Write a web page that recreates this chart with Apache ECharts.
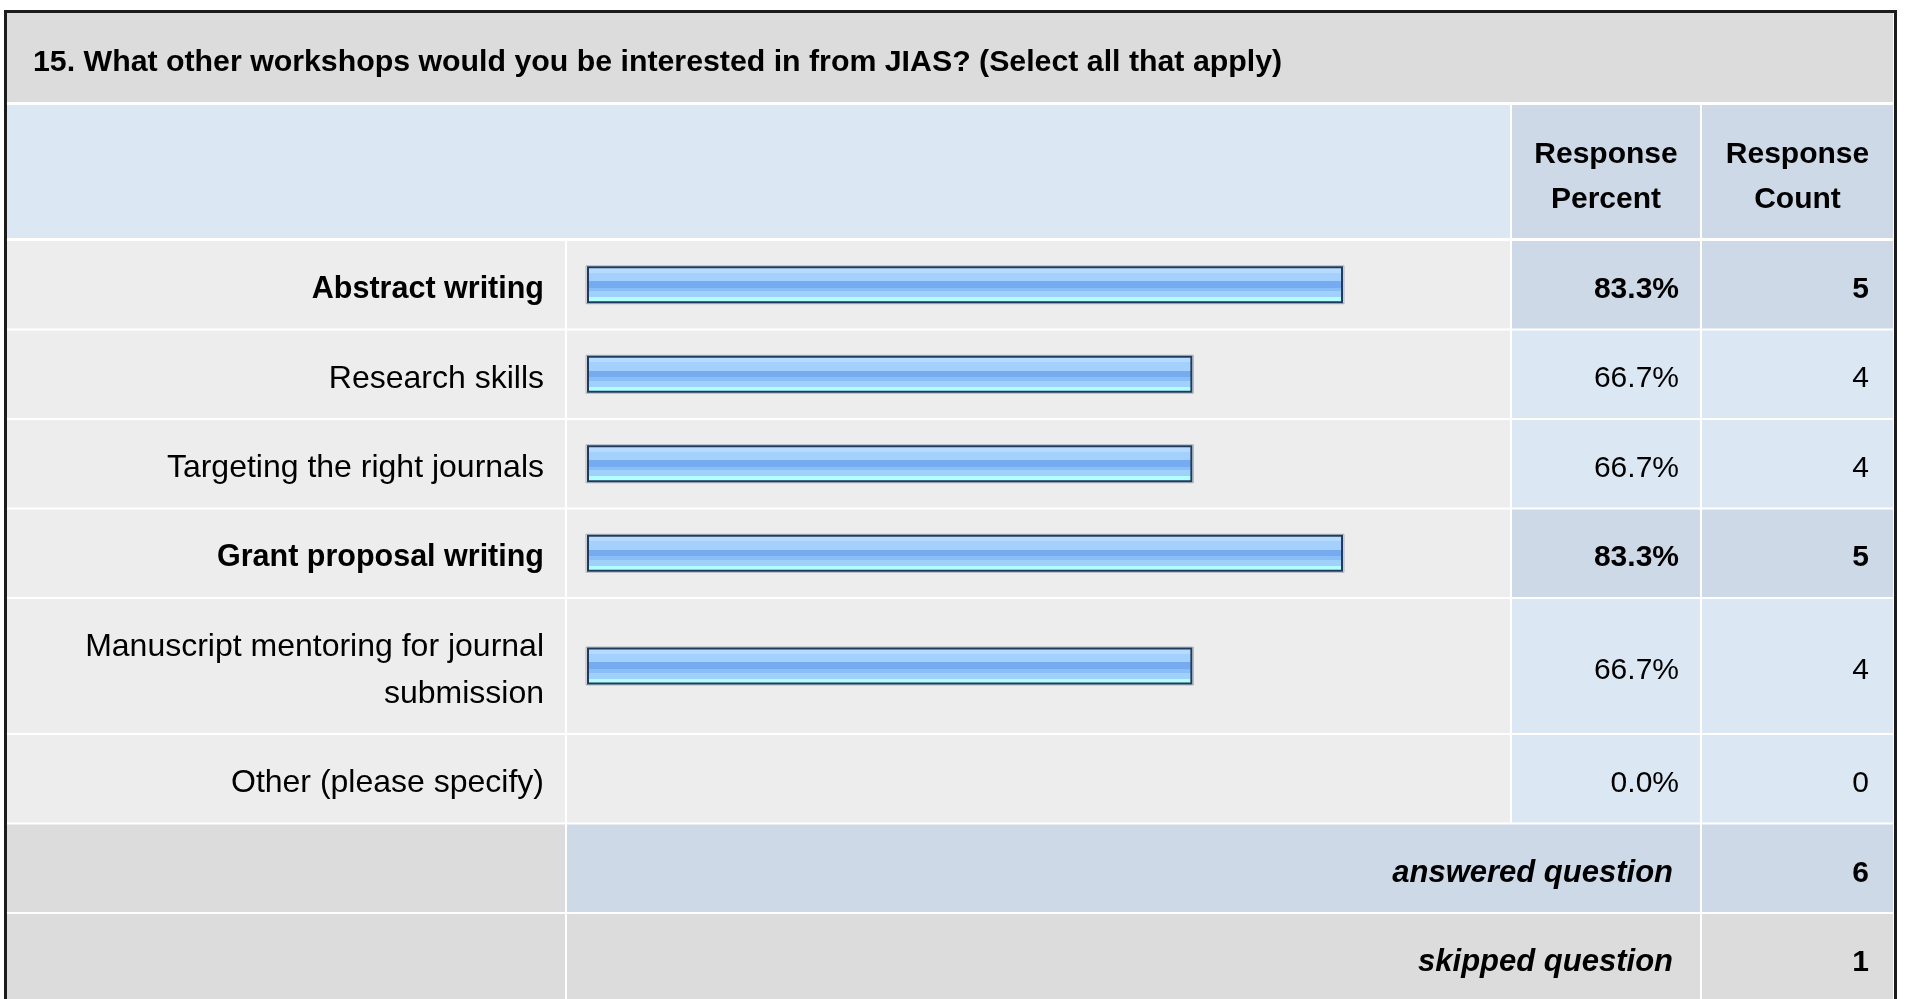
<!DOCTYPE html>
<html>
<head>
<meta charset="utf-8">
<title>Workshop interest</title>
<script src="https://cdn.jsdelivr.net/npm/echarts@6/dist/echarts.min.js"></script>
<style>
  html, body { margin: 0; padding: 0; background: #ffffff; }
  #chart { width: 1907px; height: 999px; }
</style>
</head>
<body>
<div id="chart"></div>
<script>
// ---- survey data ----
const questionTitle = '15. What other workshops would you be interested in from JIAS? (Select all that apply)';
const headerPercent = 'Response\nPercent';
const headerCount = 'Response\nCount';
const categories = [
  'Abstract writing',
  'Research skills',
  'Targeting the right journals',
  'Grant proposal writing',
  'Manuscript mentoring for journal\nsubmission',
  'Other (please specify)'
];
const percents = [83.3, 66.7, 66.7, 83.3, 66.7, 0.0];
const counts = [5, 4, 4, 5, 4, 0];
const summaryLabels = ['answered question', 'skipped question'];
const summaryCounts = [6, 1];

// ---- table layout ----
const FONT = '"Liberation Sans", Arial, Helvetica, sans-serif';
const T = {
  left: 7, right: 1893,
  labelEnd: 565, pctStart: 1512, pctEnd: 1700, cntStart: 1702,
  gap: 2,
  titleTop: 13, titleBottom: 102,
  headTop: 105, headBottom: 238,
  bodyTop: 241, rowBase: 87.5, lineStep: 46.5,
  barStart: 587, barFull: 907.6, barHeight: 35,
  labelPad: 21, pctPad: 21, cntPad: 24, textShift: 4.5
};
const C = {
  title: '#dcdcdc', head: '#dce7f4', headCell: '#cdd9e6',
  cell: '#ededed', pct: '#dce7f4', pctStrong: '#cdd9e6',
  summaryLabel: '#dcdcdc', text: '#000000', border: '#1c1c1c',
  barStroke: '#1f3a5c'
};

// row extents (relative to the body top) derived from how many lines each label takes
const rowTop = [], rowBottom = [];
let acc = 0;
categories.forEach((c, i) => {
  const lines = c.split('\n').length;
  const h = T.rowBase + (lines - 1) * T.lineStep;
  rowTop.push(acc);
  rowBottom.push(acc + h);
  acc += h + T.gap;
});
const bodyHeight = acc - T.gap;
const maxCount = Math.max(...counts);

const barFill = new echarts.graphic.LinearGradient(0, 0, 0, 1, [
  { offset: 0.00, color: '#d0e8ff' }, { offset: 0.05, color: '#d0e8ff' },
  { offset: 0.05, color: '#b7dbfe' }, { offset: 0.17, color: '#b7dbfe' },
  { offset: 0.17, color: '#a4d0fd' }, { offset: 0.40, color: '#a4d0fd' },
  { offset: 0.40, color: '#76abf0' }, { offset: 0.58, color: '#76abf0' },
  { offset: 0.58, color: '#89bef8' }, { offset: 0.68, color: '#89bef8' },
  { offset: 0.68, color: '#9fd1fb' }, { offset: 0.84, color: '#9fd1fb' },
  { offset: 0.84, color: '#b2feff' }, { offset: 1.00, color: '#b2feff' }
]);

function txt(x, y, text, opts) {
  return {
    type: 'text', x: x, y: y, silent: true,
    style: Object.assign({
      text: text, fill: C.text, fontFamily: FONT, fontSize: 32,
      align: 'right', verticalAlign: 'middle'
    }, opts || {})
  };
}

function renderRow(params, api) {
  const i = api.value(2);
  const strong = counts[i] === maxCount;
  const p0 = api.coord([0, rowTop[i]]);
  const p1 = api.coord([api.value(0), rowBottom[i]]);
  const top = p0[1], bottom = p1[1], h = bottom - top, mid = (top + bottom) / 2;
  const weight = strong ? 'bold' : 'normal';
  const size = strong ? 30.5 : 32;
  const children = [
    { type: 'rect', shape: { x: T.left, y: top, width: T.labelEnd - T.left, height: h }, style: { fill: C.cell } },
    { type: 'rect', shape: { x: T.labelEnd + T.gap, y: top, width: T.pctStart - T.gap - T.labelEnd - T.gap, height: h }, style: { fill: C.cell } },
    { type: 'rect', shape: { x: T.pctStart, y: top, width: T.pctEnd - T.pctStart, height: h }, style: { fill: strong ? C.pctStrong : C.pct } },
    { type: 'rect', shape: { x: T.cntStart, y: top, width: T.right - T.cntStart, height: h }, style: { fill: strong ? C.pctStrong : C.pct } },
    txt(T.labelEnd - T.labelPad, mid + T.textShift, categories[i], { fontWeight: weight, fontSize: size, lineHeight: T.lineStep }),
    txt(T.pctEnd - T.pctPad, mid + T.textShift, percents[i].toFixed(1) + '%', { fontWeight: weight, fontSize: 30 }),
    txt(T.right - T.cntPad, mid + T.textShift, String(counts[i]), { fontWeight: weight, fontSize: 30 })
  ];
  const len = p1[0] - p0[0];
  if (len > 2) {
    children.push({
      type: 'rect',
      shape: { x: p0[0] - 1, y: mid - T.barHeight / 2 - 1.5, width: len + 2, height: T.barHeight + 3 },
      style: { fill: 'none', stroke: 'rgba(60,80,110,0.35)', lineWidth: 1 }
    });
    children.push({
      type: 'rect',
      shape: { x: p0[0] + 1, y: mid - T.barHeight / 2, width: len - 2, height: T.barHeight },
      style: { fill: barFill, stroke: C.barStroke, lineWidth: 2 }
    });
  }
  return { type: 'group', children: children };
}

const rowData = percents.map((p, i) => [p, (rowTop[i] + rowBottom[i]) / 2, i]);

// title, header and summary rows
const summaryTop = T.bodyTop + bodyHeight + T.gap;
const graphics = [
  { type: 'rect', shape: { x: T.left, y: T.titleTop, width: T.right - T.left, height: T.titleBottom - T.titleTop }, style: { fill: C.title } },
  txt(33, (T.titleTop + T.titleBottom) / 2 + 5.5, questionTitle, { fontWeight: 'bold', fontSize: 30.3, align: 'left' }),
  { type: 'rect', shape: { x: T.left, y: T.headTop, width: T.pctStart - T.gap - T.left, height: T.headBottom - T.headTop }, style: { fill: C.head } },
  { type: 'rect', shape: { x: T.pctStart, y: T.headTop, width: T.pctEnd - T.pctStart, height: T.headBottom - T.headTop }, style: { fill: C.headCell } },
  { type: 'rect', shape: { x: T.cntStart, y: T.headTop, width: T.right - T.cntStart, height: T.headBottom - T.headTop }, style: { fill: C.headCell } },
  txt((T.pctStart + T.pctEnd) / 2, (T.headTop + T.headBottom) / 2 + 5.5, headerPercent, { fontWeight: 'bold', fontSize: 30, align: 'center', lineHeight: 45 }),
  txt((T.cntStart + T.right) / 2, (T.headTop + T.headBottom) / 2 + 5.5, headerCount, { fontWeight: 'bold', fontSize: 30, align: 'center', lineHeight: 45 })
];
summaryLabels.forEach((lab, k) => {
  const top = summaryTop + k * (T.rowBase + T.gap);
  const mid = top + T.rowBase / 2;
  const midFill = k === 0 ? C.headCell : C.summaryLabel;
  graphics.push(
    { type: 'rect', shape: { x: T.left, y: top, width: T.labelEnd - T.left, height: T.rowBase }, style: { fill: C.summaryLabel } },
    { type: 'rect', shape: { x: T.labelEnd + T.gap, y: top, width: T.pctEnd - T.labelEnd - T.gap, height: T.rowBase }, style: { fill: midFill } },
    { type: 'rect', shape: { x: T.cntStart, y: top, width: T.right - T.cntStart, height: T.rowBase }, style: { fill: midFill } },
    txt(T.pctEnd - 27, mid + T.textShift + 0.5, lab, { fontWeight: 'bold', fontStyle: 'italic', fontSize: 31 }),
    txt(T.right - T.cntPad, mid + T.textShift + 0.5, String(summaryCounts[k]), { fontWeight: 'bold', fontSize: 30 })
  );
});
// outer frame
graphics.push({
  type: 'rect', silent: true,
  shape: { x: 5.5, y: 11.5, width: 1890, height: 1020 },
  style: { fill: 'none', stroke: C.border, lineWidth: 3 }
});

const chart = echarts.init(document.getElementById('chart'), null, { renderer: 'canvas' });
chart.setOption({
  animation: false,
  backgroundColor: '#ffffff',
  grid: {
    left: T.barStart, width: T.barFull,
    top: T.bodyTop, height: bodyHeight,
    containLabel: false
  },
  xAxis: { type: 'value', min: 0, max: 100, show: false },
  yAxis: { type: 'value', min: 0, max: bodyHeight, inverse: true, show: false },
  series: [{
    type: 'custom',
    coordinateSystem: 'cartesian2d',
    renderItem: renderRow,
    encode: { x: 0, y: 1 },
    data: rowData,
    clip: false
  }],
  graphic: { elements: graphics }
});
</script>
</body>
</html>
